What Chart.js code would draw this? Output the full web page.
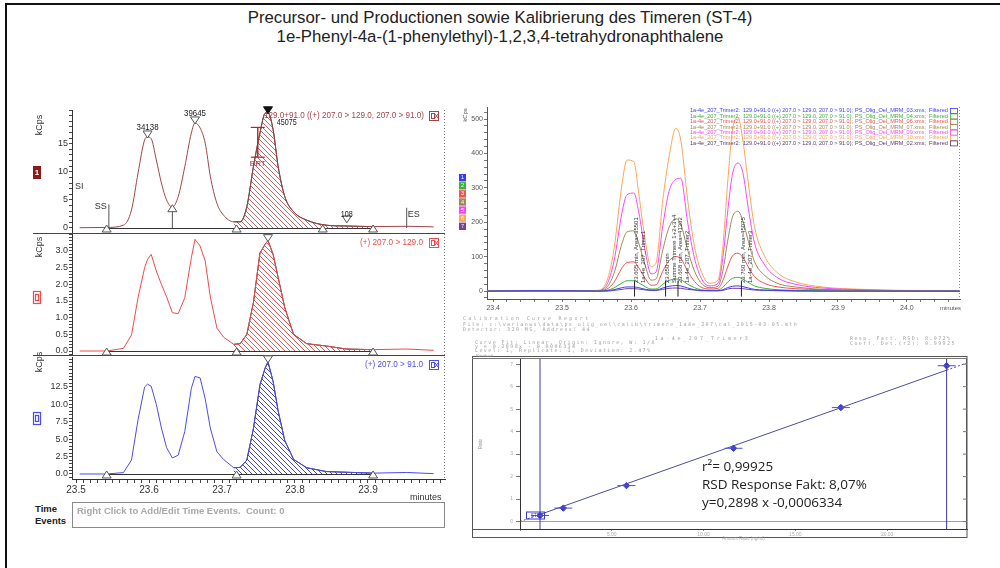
<!DOCTYPE html>
<html>
<head>
<meta charset="utf-8">
<title>Kalibrierung Timeren ST-4</title>
<script src="https://cdn.jsdelivr.net/npm/chart.js@4.4.1/dist/chart.umd.min.js"></script>
<style>
  html, body { margin: 0; padding: 0; background: #fff; }
  body { width: 1000px; height: 568px; position: relative; overflow: hidden; font-family: "Liberation Sans", Arial, sans-serif; }
  .frame { position: absolute; left: 5px; top: 3px; width: 1000px; height: 600px; border-left: 2px solid #111; border-top: 2px solid #111; }
  canvas { position: absolute; }
  .txt { position: absolute; white-space: nowrap; }
  .title { left: 0; width: 1000px; text-align: center; font-size: 16.8px; color: #222; }
  .hdr { font-family: "DejaVu Sans Mono", monospace; font-size: 5px; color: #a0a0a0; letter-spacing: 1.4px; }
  .fit { font-family: "Open Sans", sans-serif; font-size: 13.5px; color: #222; left: 702px; }
  .tev { left: 35px; font-size: 9.5px; font-weight: bold; color: #222; line-height: 12px; }
  .tbox { left: 72px; top: 502px; width: 371px; height: 24px; border: 1px solid #8a8a8a; }
  .tbox span { position: absolute; left: 4px; top: 2px; font-size: 9.5px; font-weight: bold; color: #a8a8a8; }
</style>
</head>
<body>
<div class="frame"></div>
<div class="txt title" style="top:8px">Precursor- und Productionen sowie Kalibrierung des Timeren (ST-4)</div>
<div class="txt title" style="top:27px">1e-Phenyl-4a-(1-phenylethyl)-1,2,3,4-tetrahydronaphthalene</div>

<canvas id="p1" width="420" height="129" style="left:30px;top:105px"></canvas>
<canvas id="p2" width="420" height="130" style="left:30px;top:226px"></canvas>
<canvas id="p3" width="420" height="154" style="left:30px;top:347px"></canvas>
<div class="txt" style="left:410px;top:492px;font-size:9px;color:#333">minutes</div>
<div class="txt tev" style="top:503px">Time<br>Events</div>
<div class="txt tbox"><span>Right Click to Add/Edit Time Events.&nbsp; Count: 0</span></div>

<canvas id="ov" width="512" height="222" style="left:455px;top:100px"></canvas>
<div class="txt" style="left:940px;top:305px;font-size:6px;color:#555">minutes</div>

<div class="txt hdr" style="left:463px;top:315px;letter-spacing:2.3px">Calibration Curve Report</div>
<div class="txt hdr" style="left:463px;top:321px">File: c:\varianws\data\ps_olig_oel\calib\trimere_1a4e_207\cal_2015-03-05.mth</div>
<div class="txt hdr" style="left:463px;top:325.5px">Detector: 320-MS, Address: 44</div>
<div class="txt hdr" style="left:655px;top:335px;letter-spacing:2.6px">1a-4e_207_Trimer3</div>
<div class="txt hdr" style="left:850px;top:335px">Resp. Fact. RSD: 8.072%</div>
<div class="txt hdr" style="left:475px;top:339px">Curve Fit: Linear, Origin: Ignore, W: 1/X</div>
<div class="txt hdr" style="left:475px;top:343px">y = 0.2898x - 0.0006334</div>
<div class="txt hdr" style="left:850px;top:339.5px">Coeff. Det.(r2): 0.99925</div>
<div class="txt hdr" style="left:475px;top:347px">Level: 1, Replicate: 1, Deviation: 2.47%</div>

<canvas id="cal" width="504" height="192" style="left:468px;top:352px"></canvas>
<div class="txt fit" style="top:457px">r²= 0,99925</div>
<div class="txt fit" style="top:475px">RSD Response Fakt: 8,07%</div>
<div class="txt fit" style="top:493px">y=0,2898 x -0,0006334</div>

<script>
// ---- left: chromatograms of the three traces (kCps over minutes) ----
const times = [23.505, 23.542, 23.565, 23.576, 23.585, 23.594, 23.598, 23.603, 23.61, 23.617,
  23.624, 23.632, 23.64, 23.649, 23.658, 23.663, 23.67, 23.677, 23.684, 23.693,
  23.702, 23.716, 23.725, 23.734, 23.743, 23.752, 23.759, 23.763, 23.77, 23.777,
  23.786, 23.798, 23.816, 23.843, 23.87, 23.907, 23.953, 23.99];
const sum129and91 = [0.05, 0.1, 0.5, 3.2, 9.8, 15.7, 16.2, 15.9, 12.1, 8.0,
  5.0, 3.7, 5.6, 10.9, 16.9, 18.7, 17.8, 15.1, 9.2, 4.4,
  2.3, 1.1, 1.1, 3.8, 10.9, 16.9, 20.4, 20.5, 17.5, 10.9,
  5.6, 2.9, 1.4, 0.5, 0.35, 0.25, 0.3, 0.2];
const ion129 = [0.0, 0.0, 0.08, 0.48, 1.6, 2.5, 2.75, 2.9, 2.4, 2.0,
  1.63, 1.15, 1.12, 1.6, 2.8, 3.35, 3.15, 2.7, 1.62, 0.69,
  0.42, 0.2, 0.22, 0.5, 1.45, 2.94, 3.2, 3.31, 2.9, 2.2,
  1.3, 0.5, 0.22, 0.15, 0.06, 0.04, 0.06, 0.02];
const ion91 = [0, 0, 0.2, 2.0, 7.8, 12.5, 12.9, 12.6, 10.0, 6.6,
  3.8, 2.3, 2.7, 6.1, 12.3, 14.0, 13.8, 10.8, 6.6, 3.2,
  2.1, 0.9, 0.95, 2.0, 6.5, 12.8, 15.2, 16.1, 13.3, 9.0,
  4.8, 2.1, 0.9, 0.35, 0.25, 0.12, 0.22, 0.05];
const peakTimes = [23.598, 23.663, 23.763];
const peakAreas = ['34138', '39645', '45075'];
const baseMarks = [23.542, 23.72, 23.907];
const peakFrom = 23.716, peakTo = 23.907;

// ---- top right: overlay of the seven calibration runs ----
const ovTimes = [23.39, 23.45, 23.5, 23.55, 23.565, 23.575, 23.587, 23.594, 23.604, 23.611,
  23.621, 23.629, 23.636, 23.646, 23.655, 23.665, 23.672, 23.682, 23.692, 23.701,
  23.713, 23.726, 23.733, 23.74, 23.747, 23.755, 23.762, 23.77, 23.779, 23.794,
  23.813, 23.838, 23.877, 23.936, 24.0, 24.077];
const mrm03 = [0, 1, 1, 0, 1, 4, 10, 12, 12, 10, 5, 3, 3, 9, 14, 16, 15, 9, 4, 2, 1, 1, 4, 10, 14, 15, 13, 9, 5, 3, 2, 1, 0, 0, 0, 0];
const mrm04 = [0, 0, 0, 0, 2, 9, 24, 30, 30, 24, 12, 6, 6, 20, 31, 35, 33, 20, 10, 4, 2, 3, 11, 26, 37, 40, 35, 25, 15, 8, 4, 2, 1, 0, 0, 0];
const mrm06 = [0, 0, 0, 0, 6, 25, 68, 83, 85, 68, 35, 17, 18, 58, 88, 100, 95, 58, 28, 12, 6, 8, 30, 70, 102, 110, 98, 70, 42, 22, 12, 7, 4, 2, 1, 0];
const mrm07 = [0, 0, 0, 1, 12, 50, 140, 172, 175, 140, 70, 32, 35, 120, 185, 210, 195, 120, 58, 25, 10, 14, 58, 145, 215, 232, 205, 145, 85, 45, 22, 12, 5, 2, 1, 0];
const mrm09 = [0, 0, 0, 1, 20, 85, 230, 280, 285, 230, 110, 50, 55, 190, 290, 325, 328, 200, 95, 40, 15, 22, 95, 230, 340, 372, 345, 240, 140, 75, 38, 20, 9, 4, 1, 0];
const mrm10 = [0, 0, 0, 2, 30, 119, 314, 381, 376, 285, 140, 71, 81, 265, 390, 473, 439, 265, 129, 61, 23, 32, 129, 314, 468, 505, 439, 314, 187, 100, 52, 27, 12, 5, 2, 1];
const mrm02 = [0, 0, 0, 0, 0, 2, 5, 7, 7, 6, 3, 2, 2, 5, 8, 9, 8, 5, 3, 1, 1, 1, 2, 6, 8, 8, 7, 5, 3, 2, 1, 0, 0, 0, 0, 0];
const ovFiles = ['PS_Olig_Oel_MRM_03.xms', 'PS_Olig_Oel_MRM_04.xms', 'PS_Olig_Oel_MRM_06.xms', 'PS_Olig_Oel_MRM_07.xms',
  'PS_Olig_Oel_MRM_09.xms', 'PS_Olig_Oel_MRM_10.xms', 'PS_Olig_Oel_MRM_02.xms'];
const ovSeries = [mrm03, mrm04, mrm06, mrm07, mrm09, mrm10, mrm02];
const ovPeakTimes = [23.605, 23.65, 23.668, 23.76];
const ovPeakLabels = [
  ['23.605 min, Area=35501', '1a-4e_207_Trimer1'],
  ['23.650 min', 'Summe Trimere 1+2+3+4'],
  ['23.668 min, Area=41362', '1a-4e_207_Trimer2'],
  ['23.760 min, Area=45075', '1a-4e_207_Trimer3']];

// ---- bottom right: calibration curve ----
const calX = [1.09, 2.36, 5.8, 11.63, 17.48, 23.24];
const calY = [0.27, 0.60, 1.60, 3.26, 5.07, 6.93];
const fitX = [0, 1.09, 23.24, 24.35];
const fitY = [0.0, 0.315, 6.734, 7.056];

const ovColors = ['#3b3bf5', '#3fae3f', '#f05252', '#9c8b55', '#fa45fa', '#fba55a', '#73409a'];
const FONT = '"Liberation Sans", Arial, sans-serif';
Chart.defaults.font.family = FONT;

function hatch(color) {
  const c = document.createElement('canvas');
  c.width = c.height = 5;
  const g = c.getContext('2d');
  g.strokeStyle = color; g.lineWidth = 0.9;
  g.beginPath();
  g.moveTo(-1, -1); g.lineTo(6, 6);
  g.moveTo(-1, 4); g.lineTo(1, 6);
  g.moveTo(4, -1); g.lineTo(6, 1);
  g.stroke();
  return g.createPattern(c, 'repeat');
}

function txt(g, s, x, y, size, color, o = {}) {
  g.save();
  g.font = (o.bold ? 'bold ' : '') + size + 'px ' + FONT;
  g.fillStyle = color; g.textBaseline = 'middle'; g.textAlign = o.align || 'left';
  g.translate(x, y);
  if (o.rot) g.rotate(o.rot);
  if (o.w) g.scale(o.w / g.measureText(s).width, 1);
  g.fillText(s, 0, 0);
  g.restore();
}
function seg(g, x1, y1, x2, y2, color, w = 1, dash) {
  g.save(); g.strokeStyle = color; g.lineWidth = w; if (dash) g.setLineDash(dash);
  g.beginPath(); g.moveTo(x1, y1); g.lineTo(x2, y2); g.stroke(); g.restore();
}
function tri(g, x, y, down, fill) {
  // up: base at y, apex above; down: tip at y, base above
  g.save(); g.beginPath();
  if (down) { g.moveTo(x, y); g.lineTo(x - 4.5, y - 7); g.lineTo(x + 4.5, y - 7); }
  else { g.moveTo(x, y - 7); g.lineTo(x - 4.5, y); g.lineTo(x + 4.5, y); }
  g.closePath(); g.fillStyle = fill || '#fff'; g.fill();
  g.strokeStyle = fill || '#555'; g.lineWidth = 1; g.stroke(); g.restore();
}
function iconBox(g, x, y, color) {
  g.save(); g.strokeStyle = color; g.lineWidth = 1;
  g.strokeRect(x + 0.5, y + 0.5, 9, 9); g.strokeRect(x + 2.5, y + 2.5, 3, 5);
  seg(g, x + 6, y + 3, x + 9, y + 7, color); seg(g, x + 9, y + 3, x + 6, y + 7, color);
  g.restore();
}

const xMinL = 23.4945, xMaxL = 24.0055;

function leftPanel(id, values, cfg) {
  const pts = times.map((t, i) => ({ x: t, y: values[i] }));
  const peakPts = pts.filter(p => p.x >= peakFrom && p.x <= peakTo);
  const interp = cfg.smooth ? 'monotone' : 'default';
  return new Chart(document.getElementById(id), {
    type: 'line',
    data: {
      datasets: [
        { data: pts, borderColor: cfg.color, borderWidth: 1, pointRadius: 0, fill: false, cubicInterpolationMode: interp },
        { data: peakPts, borderColor: '#2a2a2a', borderWidth: 1, pointRadius: 0, fill: 'origin',
          backgroundColor: hatch(cfg.hatch), cubicInterpolationMode: interp }
      ]
    },
    options: {
      responsive: false, animation: false, events: [], devicePixelRatio: 1,
      layout: { padding: { top: cfg.padTop, right: 5, left: 0, bottom: 0 } },
      plugins: { legend: { display: false }, tooltip: { enabled: false } },
      scales: {
        x: {
          type: 'linear', min: xMinL, max: xMaxL, display: cfg.showX,
          afterFit: s => { if (cfg.showX) { s.height = 22; s.paddingLeft = 0; s.paddingRight = 0; } },
          ticks: {
            stepSize: 0.01, autoSkip: false, maxRotation: 0, includeBounds: false, color: '#333',
            font: { size: 10 }, padding: 1,
            callback: v => { const k = Math.round(v * 10); return Math.abs(v * 10 - k) < 1e-6 && v < 23.95 ? (k / 10).toFixed(1) : ''; }
          },
          grid: { drawOnChartArea: false, tickLength: 4, color: '#444' },
          border: { color: '#333' }
        },
        y: {
          min: cfg.min, max: cfg.max,
          afterFit: s => { s.width = 42; s.paddingTop = 0; s.paddingBottom = 0; },
          ticks: { stepSize: cfg.step, autoSkip: false, includeBounds: false, color: '#333', font: { size: 9 }, padding: 1, callback: cfg.label },
          grid: { drawOnChartArea: false, tickLength: 3, color: '#444' },
          border: { color: '#333' }
        }
      }
    },
    plugins: [{ id: 'marks_' + id, afterDraw: c => common(c, cfg) }]
  });
}

function common(c, cfg) {
  const g = c.ctx, a = c.chartArea;
  const X = v => c.scales.x.getPixelForValue(v), Y = v => c.scales.y.getPixelForValue(v);
  // right edge dotted ticks, panel separator
  seg(g, a.right - 0.5, a.top, a.right - 0.5, a.bottom, '#777', 1, [1, 2]);
  if (!cfg.showX) seg(g, 3, a.bottom - 0.5, a.right, a.bottom - 0.5, '#444');
  // baseline of integration + markers
  seg(g, X(baseMarks[0]), Y(0) + 0.5, X(baseMarks[2]), Y(0) + 0.5, '#333');
  baseMarks.forEach(t => tri(g, X(t), Y(0) + 4, false));
  const iTop = times.indexOf(peakTimes[2]);
  tri(g, X(peakTimes[2]), Y(cfg.values[iTop]) + 1, true, cfg.selFill);
  // axis label and trace box on the left
  txt(g, 'kCps', 10, cfg.kY, 9, '#333', { rot: -Math.PI / 2, align: 'center' });
  g.save();
  if (cfg.boxFill) { g.fillStyle = cfg.boxFill; g.fillRect(3, cfg.boxY, 8, 13); txt(g, '1', 7, cfg.boxY + 6.5, 8, '#fff', { align: 'center', bold: true }); }
  else { g.strokeStyle = cfg.color; g.lineWidth = 1.2; g.strokeRect(3.5, cfg.boxY + 0.5, 7, 12); g.strokeRect(5.5, cfg.boxY + 3.5, 3, 6); }
  g.restore();
  // trace title on the right
  txt(g, cfg.name, cfg.nameX, cfg.nameY, 9, cfg.color, { w: cfg.nameW });
  iconBox(g, 399, cfg.nameY - 5, cfg.color);
  if (cfg.extra) cfg.extra(c, g, X, Y);
}

leftPanel('p1', sum129and91, {
  values: sum129and91, color: '#a34545', hatch: '#b35a5a', smooth: true, padTop: 5, showX: false,
  min: -1.07, max: 21, step: 1,
  label: v => (v >= 0 && v <= 15 && v % 5 === 0) ? String(v) : '',
  kY: 20, boxFill: '#8c1c1c', boxY: 61, selFill: '#111',
  name: '129.0+91.0 ((+) 207.0 > 129.0, 207.0 > 91.0)', nameX: 234, nameY: 11, nameW: 160,
  extra: (c, g, X, Y) => {
    // peak apex markers and areas
    [0, 1].forEach(i => {
      const v = sum129and91[times.indexOf(peakTimes[i])];
      tri(g, X(peakTimes[i]), Y(v) + 1, true);
      txt(g, peakAreas[i], X(peakTimes[i]), Y(v) - 9, 9, '#222', { align: 'center', w: 22 });
    });
    txt(g, peakAreas[2], X(23.775), Y(18.7), 9, '#222', { w: 20 });
    // valley drop line
    seg(g, X(23.632), Y(2.9), X(23.632), Y(0), '#555');
    tri(g, X(23.632), Y(2.9), false);
    tri(g, X(23.838), Y(0) + 4, false);
    tri(g, X(23.871), Y(0.9), true);
    txt(g, '108', X(23.871), Y(2.4), 9, '#222', { align: 'center', w: 12 });
    // SS / ES / SI / ERT
    seg(g, X(23.545), Y(4.2), X(23.545), Y(0), '#555');
    txt(g, 'SS', X(23.545) - 2, Y(3.8), 9, '#333', { align: 'right' });
    seg(g, X(23.953), Y(3.6), X(23.953), Y(0), '#555');
    txt(g, 'ES', X(23.953) + 1, Y(2.4), 9, '#333');
    txt(g, 'SI', 45, Y(7.4), 9, '#333');
    const ex = X(23.749);
    seg(g, ex, Y(17.9), ex, Y(12.6), '#c02020', 1.4);
    seg(g, ex - 7, Y(17.9), ex + 7, Y(17.9), '#c02020', 1.2);
    seg(g, ex - 7, Y(12.6), ex + 7, Y(12.6), '#c02020', 1.2);
    txt(g, 'ERT', ex, Y(11.4), 8, '#c02020', { align: 'center' });
  }
});

leftPanel('p2', ion129, {
  values: ion129, color: '#f04a4a', hatch: '#e04848', smooth: false, padTop: 8, showX: false,
  min: -0.15, max: 3.51, step: 0.1,
  label: v => { const k = Math.round(v * 10); return (k >= 0 && k <= 30 && k % 5 === 0) ? (k / 10).toFixed(1) : ''; },
  kY: 21, boxFill: null, boxY: 65,
  name: '(+) 207.0 > 129.0', nameX: 330, nameY: 17, nameW: 63
});

leftPanel('p3', ion91, {
  values: ion91, color: '#4b4bef', hatch: '#3232b8', smooth: false, padTop: 10, showX: true,
  min: -0.72, max: 16.8, step: 0.5,
  label: v => { const k = Math.round(v * 2); return (k >= 0 && k <= 25 && k % 5 === 0) ? (k / 2).toFixed(1) : ''; },
  kY: 15, boxFill: null, boxY: 65,
  name: '(+) 207.0 > 91.0', nameX: 335, nameY: 18, nameW: 58
});

// ---- overlay chart ----
new Chart(document.getElementById('ov'), {
  type: 'line',
  data: {
    datasets: ovSeries.map((s, k) => ({
      data: ovTimes.map((t, i) => ({ x: t, y: s[i] })),
      borderColor: ovColors[k], borderWidth: 1, pointRadius: 0, cubicInterpolationMode: 'monotone'
    }))
  },
  options: {
    responsive: false, animation: false, events: [], devicePixelRatio: 1,
    layout: { padding: { top: 7, right: 7, left: 0, bottom: 0 } },
    plugins: { legend: { display: false }, tooltip: { enabled: false } },
    scales: {
      x: {
        type: 'linear', min: 23.391, max: 24.077,
        afterFit: s => { s.height = 23; s.paddingLeft = 0; s.paddingRight = 0; },
        ticks: {
          stepSize: 0.02, autoSkip: false, maxRotation: 0, includeBounds: false, color: '#555', font: { size: 7 }, padding: 2,
          callback: v => { const k = Math.round(v * 10); return Math.abs(v * 10 - k) < 1e-6 ? (k / 10).toFixed(1) : ''; }
        },
        grid: { drawOnChartArea: false, tickLength: 3, color: '#777' },
        border: { color: '#555' }
      },
      y: {
        min: -23, max: 535,
        afterFit: s => { s.width = 32; s.paddingTop = 0; s.paddingBottom = 0; },
        ticks: { stepSize: 20, autoSkip: false, includeBounds: false, color: '#555', font: { size: 7 }, padding: 1,
          callback: v => (v >= 0 && v % 100 === 0) ? String(v) : '' },
        grid: { drawOnChartArea: false, tickLength: 3, color: '#777' },
        border: { color: '#555' }
      }
    }
  },
  plugins: [{
    id: 'ovmarks',
    afterDraw(c) {
      const g = c.ctx, a = c.chartArea;
      const X = v => c.scales.x.getPixelForValue(v), Y = v => c.scales.y.getPixelForValue(v);
      seg(g, a.right - 0.5, a.top, a.right - 0.5, a.bottom, '#888', 1, [1, 2]);
      txt(g, 'kCps', 10, 15, 6, '#555', { rot: -Math.PI / 2, align: 'center' });
      // trace selector boxes
      ovColors.forEach((col, k) => {
        g.fillStyle = col; g.fillRect(4, 74 + k * 8.1, 7, 7.4);
        txt(g, String(k + 1), 7.5, 77.7 + k * 8.1, 5.5, '#fff', { align: 'center' });
      });
      // legend lines
      ovFiles.forEach((f, k) => {
        const y = 11 + k * 5.4, col = k === 6 ? '#5a3a70' : ovColors[k];
        txt(g, '1a-4e_207_Trimer2:', 235, y, 5, col, { w: 50 });
        txt(g, '129.0+91.0 ((+) 207.0 > 129.0, 207.0 > 91.0);', 288, y, 5, col, { w: 110 });
        txt(g, f + ';', 400, y, 5, col, { w: 71 });
        txt(g, 'Filtered', 474, y, 5, col, { w: 19 });
        g.save(); g.strokeStyle = col; g.lineWidth = 0.8; g.strokeRect(495.5, y - 2.5, 7, 5); g.restore();
      });
      // peak annotations
      ovPeakTimes.forEach((t, k) => {
        const x = X(t);
        seg(g, x, Y(-16), x, Y(30), '#222');
        ovPeakLabels[k].forEach((s, j) => txt(g, s, x + 2 + j * 7, Y(0) - 8, 6, '#333', { rot: -Math.PI / 2 }));
      });
    }
  }]
});

// ---- calibration curve ----
new Chart(document.getElementById('cal'), {
  type: 'scatter',
  data: {
    datasets: [
      { data: fitX.map((x, i) => ({ x, y: fitY[i] })), showLine: true, borderColor: '#4d4d9c', borderWidth: 1, pointRadius: 0,
        segment: { borderDash: s => (s.p0DataIndex === 1 ? undefined : [2, 2]) } },
      { data: calX.map((x, i) => ({ x, y: calY[i] })), pointStyle: 'rectRot', pointRadius: 3.2,
        backgroundColor: '#3c3cd6', borderColor: '#3c3cd6', showLine: false }
    ]
  },
  options: {
    responsive: false, animation: false, events: [], devicePixelRatio: 1,
    layout: { padding: { top: 7, right: 4, left: 0, bottom: 0 } },
    plugins: { legend: { display: false }, tooltip: { enabled: false } },
    scales: {
      x: {
        type: 'linear', min: 0, max: 24.35,
        afterFit: s => { s.height = 15; s.paddingLeft = 0; s.paddingRight = 0; },
        ticks: { stepSize: 5, includeBounds: false, color: '#aaa', font: { size: 5 }, padding: 1,
          callback: v => (v > 0 && v < 24) ? v.toFixed(2) : '' },
        grid: { drawOnChartArea: false, tickLength: 2, color: '#888' },
        border: { color: '#333' }
      },
      y: {
        min: -0.33, max: 7.23,
        afterFit: s => { s.width = 52; s.paddingTop = 0; s.paddingBottom = 0; },
        ticks: { stepSize: 1, includeBounds: false, color: '#aaa', font: { size: 5 }, padding: 3,
          callback: v => String(v) },
        grid: { color: t => t.tick && t.tick.value === 0 ? '#a0a0a0' : 'rgba(0,0,0,0)', tickColor: '#777', tickLength: 4 },
        border: { color: '#333' }
      }
    }
  },
  plugins: [{
    id: 'calmarks',
    afterDraw(c) {
      const g = c.ctx, a = c.chartArea;
      const X = v => c.scales.x.getPixelForValue(v), Y = v => c.scales.y.getPixelForValue(v);
      // outer frame and top band
      g.save(); g.strokeStyle = '#555'; g.lineWidth = 1;
      g.strokeRect(4.5, 4.5, a.right - 4.5, 181); g.restore();
      seg(g, 4, a.top - 0.5, a.right, a.top - 0.5, '#777');
      seg(g, a.right - 0.5, a.top, a.right - 0.5, a.bottom, '#555');
      seg(g, 4, a.bottom + 0.5, a.left, a.bottom + 0.5, '#555');
      for (let v = 0; v <= 7; v++) seg(g, a.right - 4, Y(v), a.right, Y(v), '#777');
      // calibrated range limits
      [calX[0], calX[calX.length - 1]].forEach(x => seg(g, X(x), a.top, X(x), a.bottom, '#3a3aa0'));
      // whiskers and first point label
      calX.forEach((x, i) => seg(g, X(x) - 9, Y(calY[i]), X(x) + 9, Y(calY[i]), '#5050d0'));
      g.save(); g.strokeStyle = '#3a3ad0'; g.lineWidth = 1; g.strokeRect(X(calX[0]) - 13.5, Y(calY[0]) - 3.5, 18, 7); g.restore();
      txt(g, 'STD', X(calX[0]) - 4.5, Y(calY[0]), 4.5, '#3a3ad0', { align: 'center' });
      txt(g, 'Ratio', 13, (a.top + a.bottom) / 2, 4.5, '#999', { rot: -Math.PI / 2, align: 'center' });
      txt(g, 'Amount Ratio (ng/ml)', (a.left + a.right) / 2, a.bottom + 10, 4.5, '#aaa', { align: 'center' });
      txt(g, 'Residuals', 8, a.top - 3.5, 4, '#999');
    }
  }]
});
</script>
</body>
</html>
